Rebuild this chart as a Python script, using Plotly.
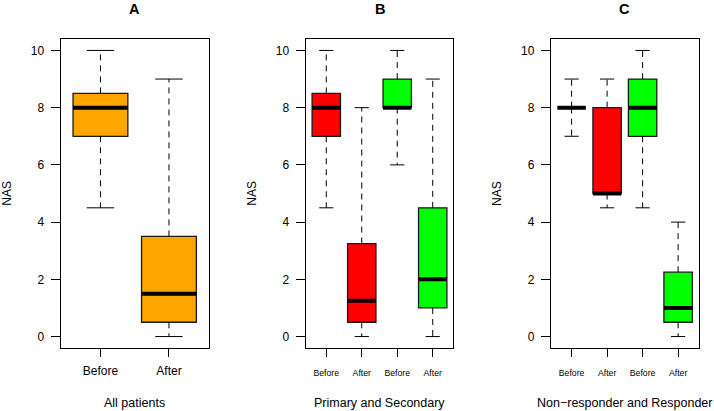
import plotly.graph_objects as go

# ---- data ----
panel_titles = ["A", "B", "C"]
panel_xtitles = ["All patients", "Primary and Secondary", "Non\u2212responder and Responder"]
tick_labels_A = ["Before", "After"]
tick_labels_BC = ["Before", "After", "Before", "After"]

# five-number summaries: lower whisker, q1, median, q3, upper whisker
A_lower = [4.5, 0]
A_q1 = [7, 0.5]
A_med = [8, 1.5]
A_q3 = [8.5, 3.5]
A_upper = [10, 9]
A_colors = ["#FFA500", "#FFA500"]

B_lower = [4.5, 0, 6, 0]
B_q1 = [7, 0.5, 8, 1]
B_med = [8, 1.25, 8, 2]
B_q3 = [8.5, 3.25, 9, 4.5]
B_upper = [10, 8, 10, 9]
B_colors = ["#FF0000", "#FF0000", "#00FF00", "#00FF00"]

C_lower = [7, 4.5, 4.5, 0]
C_q1 = [8, 5, 7, 0.5]
C_med = [8, 5, 8, 1]
C_q3 = [8, 8, 9, 2.25]
C_upper = [9, 9, 10, 4]
C_colors = ["#FF0000", "#FF0000", "#00FF00", "#00FF00"]

y_ticks = [0, 2, 4, 6, 8, 10]

panels = [
    (A_lower, A_q1, A_med, A_q3, A_upper, A_colors, tick_labels_A, 12),
    (B_lower, B_q1, B_med, B_q3, B_upper, B_colors, tick_labels_BC, 8.7),
    (C_lower, C_q1, C_med, C_q3, C_upper, C_colors, tick_labels_BC, 8.7),
]

W, H = 714, 411
x_domains_px = [(60.7, 208.7), (305.7, 453.3), (551.0, 698.7)]
y_dom = [1 - 348 / H, 1 - 39 / H]
BOXW = 0.8
FONT = "Liberation Sans, Arial, Helvetica, sans-serif"

fig = go.Figure()
layout = dict(
    width=W, height=H, margin=dict(l=0, r=0, t=0, b=0),
    paper_bgcolor="white", plot_bgcolor="white", showlegend=False,
    font=dict(family=FONT, color="black"),
)
annotations = []

for i, (lo, q1, med, q3, up, cols, tlabels, tfs) in enumerate(panels):
    n = len(med)
    pos = list(range(1, n + 1))
    xa = "x" if i == 0 else f"x{i+1}"
    ya = "y" if i == 0 else f"y{i+1}"
    # dashed whiskers
    wx, wy = [], []
    for p, a, b, c, d in zip(pos, lo, q1, q3, up):
        wx += [p, p, None, p, p, None]
        wy += [c, d, None, b, a, None]
    fig.add_trace(go.Scatter(x=wx, y=wy, mode="lines", xaxis=xa, yaxis=ya,
                             line=dict(color="black", width=1, dash="6px,5px"),
                             hoverinfo="skip"))
    # staples
    sx, sy = [], []
    for p, a, d in zip(pos, lo, up):
        sx += [p - BOXW / 4, p + BOXW / 4, None, p - BOXW / 4, p + BOXW / 4, None]
        sy += [d, d, None, a, a, None]
    fig.add_trace(go.Scatter(x=sx, y=sy, mode="lines", xaxis=xa, yaxis=ya,
                             line=dict(color="black", width=1), hoverinfo="skip"))
    # boxes
    for p, b, m, c, col in zip(pos, q1, med, q3, cols):
        fig.add_trace(go.Box(x=[p], q1=[b], median=[m], q3=[c], lowerfence=[b],
                             upperfence=[c], width=BOXW, fillcolor=col,
                             line=dict(color="#1a1a1a", width=1.3), whiskerwidth=0,
                             boxpoints=False, xaxis=xa, yaxis=ya, hoverinfo="skip"))
    # medians
    mx, my = [], []
    for p, m in zip(pos, med):
        mx += [p - BOXW / 2, p + BOXW / 2, None]
        my += [m, m, None]
    fig.add_trace(go.Scatter(x=mx, y=my, mode="lines", xaxis=xa, yaxis=ya,
                             line=dict(color="black", width=4), hoverinfo="skip"))

    x0, x1 = x_domains_px[i]
    key_x = "xaxis" if i == 0 else f"xaxis{i+1}"
    key_y = "yaxis" if i == 0 else f"yaxis{i+1}"
    layout[key_x] = dict(
        domain=[x0 / W, x1 / W], anchor=ya, range=[0.42, n + 0.58],
        tickmode="array", tickvals=pos, ticktext=tlabels,
        tickfont=dict(size=tfs, family=FONT, color="black"),
        ticks="outside", ticklen=8, tickwidth=1, tickcolor="black",
        showline=True, mirror=True, linecolor="black", linewidth=1.3,
        showgrid=False, zeroline=False, fixedrange=True,
        ticklabelstandoff=3 if i == 0 else 8,
    )
    layout[key_y] = dict(
        domain=y_dom, anchor=xa, range=[-0.4, 10.4],
        tickmode="array", tickvals=y_ticks, ticktext=[str(v) for v in y_ticks],
        tickfont=dict(size=12, family=FONT, color="black"),
        ticks="outside", ticklen=9, tickwidth=1, tickcolor="black",
        showline=True, mirror=True, linecolor="black", linewidth=1.3,
        showgrid=False, zeroline=False, fixedrange=True,
        ticklabelstandoff=4,
    )
    cx = (x0 + x1) / 2 / W
    annotations.append(dict(text=f"<b>{panel_titles[i]}</b>", x=cx, y=1 - 9 / H,
                            xref="paper", yref="paper", xanchor="center", yanchor="middle",
                            showarrow=False, font=dict(size=14.5, family=FONT, color="black")))
    annotations.append(dict(text=panel_xtitles[i], x=cx, y=1 - 403 / H,
                            xref="paper", yref="paper", xanchor="center", yanchor="middle",
                            showarrow=False, font=dict(size=12.5, family=FONT, color="black")))
    annotations.append(dict(text="NAS", x=(x0 - 54.5) / W, y=(y_dom[0] + y_dom[1]) / 2,
                            xref="paper", yref="paper", xanchor="center", yanchor="middle",
                            textangle=-90, showarrow=False,
                            font=dict(size=12, family=FONT, color="black")))

layout["annotations"] = annotations
fig.update_layout(**layout)
fig.write_html("out.html", config={"displayModeBar": False},
               post_script="document.body.style.margin='0';document.body.style.overflow='hidden';")
